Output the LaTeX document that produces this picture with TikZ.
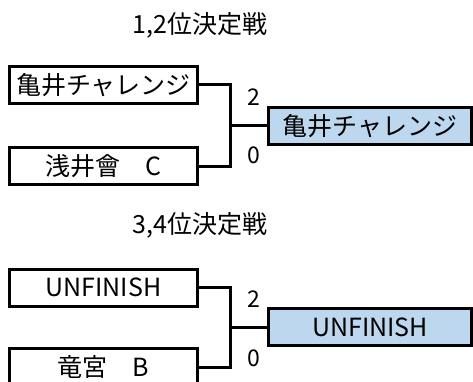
\documentclass[tikz,border=0pt]{standalone}
\usepackage{fontspec}
\newfontfamily\jp{Noto Sans CJK JP}
\usetikzlibrary{positioning, calc}
\definecolor{cW}{RGB}{189,215,238}

\begin{document}
\begin{tikzpicture}[x=1pt, y=-1pt,
team/.style={rectangle, draw, line width=3pt, minimum width=188pt, minimum height=37pt, inner sep=0pt, font=\jp\fontsize{25}{27}\selectfont},
win/.style={team, fill = cW, minimum width=203pt},
title/.style={font=\jp\fontsize{25}{27}\selectfont},
score/.style={font=\jp\fontsize{23}{25}\selectfont, inner sep=0pt},
bracket/.style={draw, line width=3pt}]

\useasboundingbox (0,0) rectangle (473,382);

\node[title] (T1) at (200,25) {1,2位決定戦};
\node[team] (A1) at (103.5,85) {亀井チャレンジ};
\node[team] (A2) at (103.5,166) {浅井會　C};
\node[win] (WA) at (370,126) {亀井チャレンジ};

\coordinate (jA) at (230,126);
\path[bracket] (A1.east) -| (jA) |- (A2.east);
\path[bracket] (jA) -- (WA.west);
\node[score] (sA1) at (254,97) {2};
\node[score] (sA2) at (254,155) {0};

\node[title] (T2) at (200,225) {3,4位決定戦};
\node[team] (B1) at (103.5,287.5) {UNFINISH};
\node[team] (B2) at (103.5,367) {竜宮　B};
\node[win] (WB) at (370,327) {UNFINISH};

\coordinate (jB) at (230,327);
\path[bracket] (B1.east) -| (jB) |- (B2.east);
\path[bracket] (jB) -- (WB.west);
\node[score] (sB1) at (254,299) {2};
\node[score] (sB2) at (254,358) {0};

\end{tikzpicture}
\end{document}
